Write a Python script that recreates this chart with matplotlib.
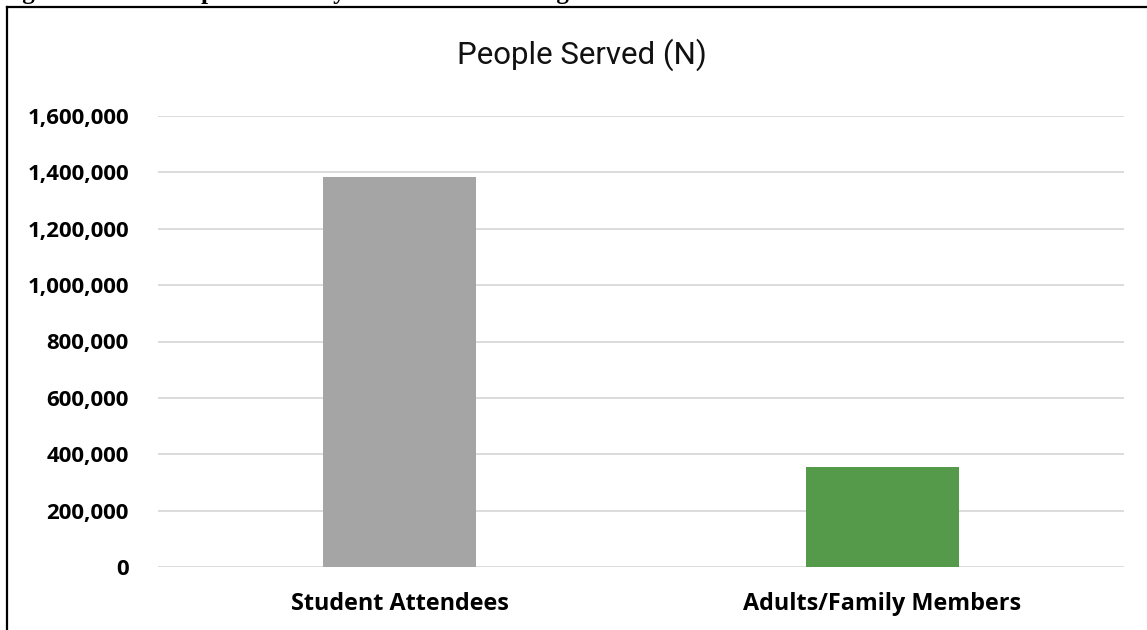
import matplotlib
matplotlib.use("Agg")
import matplotlib.pyplot as plt
from matplotlib.lines import Line2D
from matplotlib.ticker import FuncFormatter

categories = ["Student Attendees", "Adults/Family Members"]
values = [1382000, 355000]
colors = ["#a5a5a5", "#559a4a"]
yticks = [0, 200000, 400000, 600000, 800000, 1000000, 1200000, 1400000, 1600000]
chart_title = "People Served (N)"
doc_caption = "Figure 3. Total People Served by the 21st CCLC Programs"

W, H = 1147, 630
fig = plt.figure(figsize=(W / 100, H / 100), dpi=100)
fig.patch.set_facecolor("white")

ax = fig.add_axes([158 / W, 1 - 567 / H, (1124 - 158) / W, (567 - 116) / H])
x = list(range(len(categories)))
ax.bar(x, values, width=0.315, color=colors, zorder=3)
ax.set_xlim(-0.5, len(categories) - 0.5)
ax.set_ylim(0, 1600000)
ax.set_yticks(yticks)
ax.yaxis.set_major_formatter(FuncFormatter(lambda v, p: f"{int(v):,}"))
ax.set_xticks(x)
ax.set_xticklabels(categories)
ax.grid(axis="y", color="#d9d9d9", linewidth=1.3, zorder=0)
for s in ax.spines.values():
    s.set_visible(False)
ax.tick_params(axis="both", length=0)
ax.tick_params(axis="y", pad=21)
ax.tick_params(axis="x", pad=18)
for lab in ax.get_yticklabels():
    lab.set_fontfamily("Open Sans")
    lab.set_fontweight("bold")
    lab.set_fontsize(16)
for lab in ax.get_xticklabels():
    lab.set_fontfamily("Open Sans")
    lab.set_fontweight("bold")
    lab.set_fontsize(16.8)

fig.text(582 / W, 1 - 55 / H, chart_title, ha="center", va="center",
         fontsize=22.5, family=["Roboto", "DejaVu Sans"],
         color="#111111")

# frame border (left and top)
fig.add_artist(Line2D([7 / W, 7 / W], [0, 1 - 7 / H], color="black",
                      linewidth=1.6, transform=fig.transFigure))
fig.add_artist(Line2D([7 / W, 1], [1 - 7 / H, 1 - 7 / H], color="black",
                      linewidth=1.6, transform=fig.transFigure))

# document caption above the frame, cut off by the top edge
fig.text(0 / W, 1 + 1.2 / H, doc_caption, ha="left", va="baseline",
         fontsize=18, family="Liberation Serif", fontweight="bold",
         color="black")

fig.savefig("out.png", dpi=100, facecolor="white")
